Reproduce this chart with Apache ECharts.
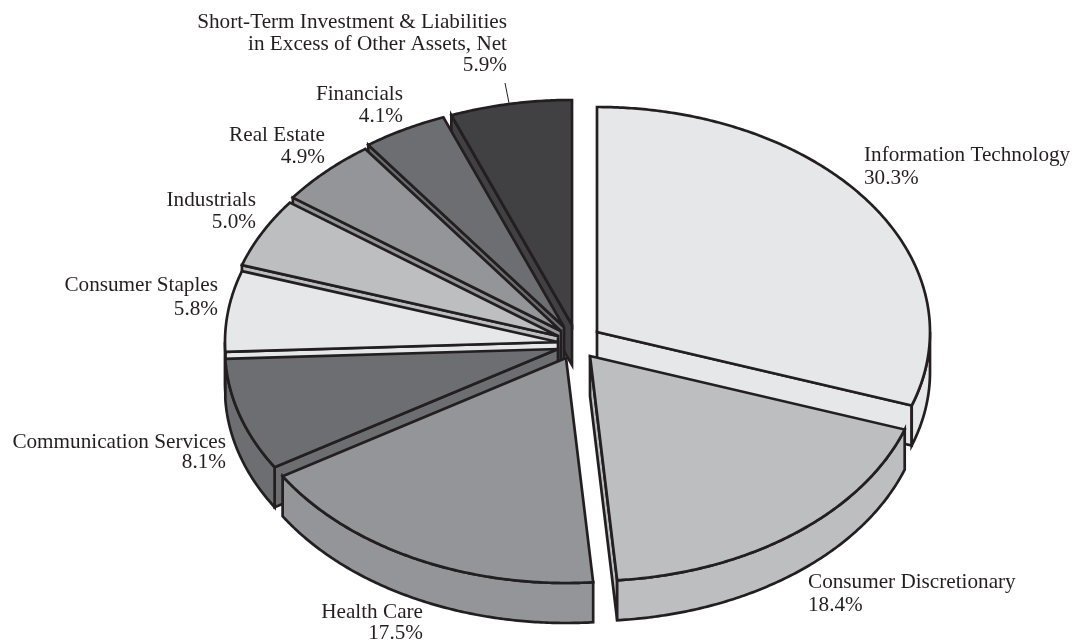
<!DOCTYPE html>
<html>
<head>
<meta charset="utf-8">
<style>html,body{margin:0;padding:0;background:#fff}#chart{width:1072px;height:640px}</style>
<script src="https://cdn.jsdelivr.net/npm/echarts@6/dist/echarts.min.js"></script>
</head>
<body>
<div id="chart"></div>
<script>
// Sector allocation, percent of net assets, clockwise from twelve o'clock
const categories = [
  'Information Technology',
  'Consumer Discretionary',
  'Health Care',
  'Communication Services',
  'Consumer Staples',
  'Industrials',
  'Real Estate',
  'Financials',
  'Short-Term Investment & Liabilities\nin Excess of Other Assets, Net'
];
const shares = [30.3, 18.4, 17.5, 8.1, 5.8, 5.0, 4.9, 4.1, 5.9];
const fills = ['#e6e7e8', '#bcbec0', '#939598', '#6d6e71', '#e6e7e8', '#bcbec0', '#939598', '#6d6e71', '#414042'];

// Geometry of the tilted, exploded disc
const RX = 333, RY = 225, DEPTH = 40;
const INK = '#231f20';
// Where each wedge's point sits after being pulled away from the centre
const apexes = [[597, 332], [590, 356], [566, 358], [558, 349], [558, 342], [558, 336], [561, 331], [564, 327], [572, 325]];
// Painted back to front so nearer wedges overlap farther ones
const paintOrder = [8, 7, 6, 5, 4, 3, 0, 2, 1];
// Label anchors: x, centre of first line, alignment, line spacing
const labelSpots = [
  [864, 155.5, 'left', 23], [808, 582, 'left', 23], [423, 612, 'right', 21.5], [226, 442, 'right', 20.5],
  [218, 285.5, 'right', 23.5], [256, 200, 'right', 22], [325, 135.5, 'right', 21.5], [403, 94, 'right', 22.5], [507, 22.5, 'right', 21.7]
];
const leader = [[505, 83], [509, 103]];

const DEG = Math.PI / 180;
function spans() {
  let acc = 0;
  return shares.map(v => {
    const from = acc / 100 * 360;
    acc += v;
    return [from, acc / 100 * 360];
  });
}
const wedgeSpans = spans();

function rim(apex, deg, drop) {
  return [apex[0] + RX * Math.sin(deg * DEG), apex[1] - RY * Math.cos(deg * DEG) + drop];
}
function arc(apex, a, b, drop) {
  const pts = [];
  const n = Math.max(2, Math.ceil(Math.abs(b - a) * 2));
  for (let k = 0; k <= n; k++) pts.push(rim(apex, a + (b - a) * k / n, drop));
  return pts;
}
function face(points, fill) {
  return {
    type: 'polygon',
    shape: { points },
    style: { fill, stroke: INK, lineWidth: 2.7, lineJoin: 'miter', miterLimit: 5 }
  };
}

function renderWedge(params, api) {
  const i = api.value(0);
  const [a, b] = wedgeSpans[i];
  const apex = apexes[i];
  const fill = fills[i];
  const low = [apex[0], apex[1] + DEPTH];
  const children = [];
  // Cut walls facing the viewer
  if (Math.sin(a * DEG) < -1e-6) {
    const e = rim(apex, a, 0);
    children.push(face([apex, e, [e[0], e[1] + DEPTH], low], fill));
  }
  if (Math.sin(b * DEG) > 1e-6) {
    const e = rim(apex, b, 0);
    children.push(face([apex, e, [e[0], e[1] + DEPTH], low], fill));
  }
  // Outer wall, only on the near half of the rim
  const wallFrom = Math.max(a, 90), wallTo = Math.min(b, 270);
  if (wallTo > wallFrom) {
    const upper = arc(apex, wallFrom, wallTo, 0);
    const lower = arc(apex, wallTo, wallFrom, DEPTH);
    children.push(face(upper.concat(lower), fill));
  }
  // Top surface
  children.push(face([apex].concat(arc(apex, a, b, 0)), fill));
  return { type: 'group', children };
}

function renderLabel(params, api) {
  const i = api.value(0);
  const spot = labelSpots[i];
  const lines = categories[i].split('\n').concat(api.value(1).toFixed(1) + '%');
  return {
    type: 'group',
    children: lines.map((t, k) => ({
      type: 'text',
      style: {
        text: t, x: spot[0], y: spot[1] + k * spot[3],
        align: spot[2], verticalAlign: 'middle',
        fill: INK, font: '21.2px "Liberation Serif"'
      }
    }))
  };
}

const chart = echarts.init(document.getElementById('chart'), null, { renderer: 'canvas' });
chart.setOption({
  animation: false,
  backgroundColor: '#ffffff',
  series: [
    {
      type: 'custom', coordinateSystem: 'none', silent: true,
      renderItem: renderWedge,
      data: paintOrder.map(i => [i, shares[i]])
    },
    {
      type: 'custom', coordinateSystem: 'none', silent: true, z: 3,
      renderItem: renderLabel,
      data: shares.map((v, i) => [i, v])
    }
  ],
  graphic: [{
    type: 'line', silent: true, z: 4,
    shape: { x1: leader[0][0], y1: leader[0][1], x2: leader[1][0], y2: leader[1][1] },
    style: { stroke: INK, lineWidth: 1 }
  }]
});
</script>
</body>
</html>
